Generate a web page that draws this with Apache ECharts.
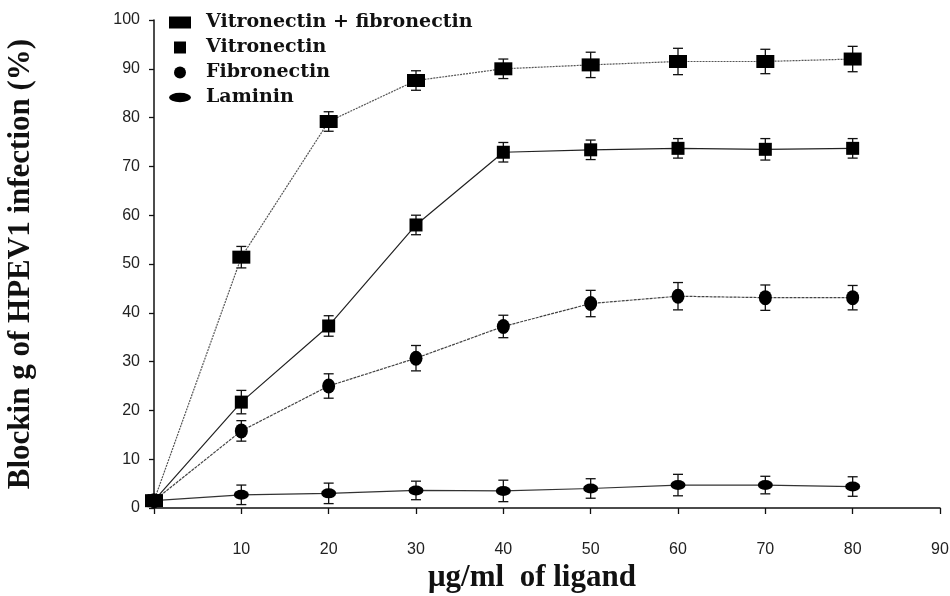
<!DOCTYPE html>
<html>
<head>
<meta charset="utf-8">
<style>
  html, body { margin: 0; padding: 0; background: #fff; }
  #chart { width: 950px; height: 596px; }
</style>
<script src="https://cdn.jsdelivr.net/npm/echarts@6/dist/echarts.min.js"></script>
</head>
<body>
<div id="chart"></div>
<script>
// ligand concentration (ug/ml)
const doses = [0, 10, 20, 30, 40, 50, 60, 70, 80];

// blocking (%) and error bar half-widths
const vitFib = [1.5, 51.4, 79.2, 87.6, 90.0, 90.8, 91.5, 91.5, 92.0];
const vitFibErr = [0, 2.2, 2.0, 2.0, 2.0, 2.6, 2.7, 2.5, 2.6];
const vitro = [1.5, 21.7, 37.3, 58.0, 72.9, 73.4, 73.7, 73.5, 73.7];
const vitroErr = [0, 2.4, 2.1, 2.0, 2.0, 2.0, 2.0, 2.2, 2.0];
const fibro = [1.5, 15.8, 25.0, 30.7, 37.2, 41.9, 43.4, 43.1, 43.1];
const fibroErr = [0, 2.1, 2.5, 2.6, 2.3, 2.7, 2.8, 2.6, 2.5];
const laminin = [1.5, 2.7, 3.0, 3.6, 3.5, 4.0, 4.7, 4.7, 4.4];
const lamininErr = [0, 2.0, 2.1, 1.9, 2.2, 2.0, 2.2, 1.8, 2.0];

const seriesNames = ['Vitronectin + fibronectin', 'Vitronectin', 'Fibronectin', 'Laminin'];

function pairs(ys) {
    return doses.map((x, i) => [x, ys[i]]);
}

function errData(ys, errs) {
    return doses.map((x, i) => [x, ys[i] - errs[i], ys[i] + errs[i]]);
}

// vertical error bar with caps
function renderErr(params, api) {
    if (api.value(2) - api.value(1) <= 0) return;
    const lo = api.coord([api.value(0), api.value(1)]);
    const hi = api.coord([api.value(0), api.value(2)]);
    const w = 5;
    const style = { stroke: '#111', lineWidth: 1.3 };
    return {
        type: 'group',
        children: [
            { type: 'line', shape: { x1: lo[0], y1: lo[1], x2: hi[0], y2: hi[1] }, style: style },
            { type: 'line', shape: { x1: lo[0] - w, y1: lo[1], x2: lo[0] + w, y2: lo[1] }, style: style },
            { type: 'line', shape: { x1: hi[0] - w, y1: hi[1], x2: hi[0] + w, y2: hi[1] }, style: style }
        ]
    };
}

function errSeries(ys, errs) {
    return {
        type: 'custom',
        renderItem: renderErr,
        data: errData(ys, errs),
        encode: { x: 0, y: [1, 2] },
        silent: true,
        z: 1
    };
}

const chart = echarts.init(document.getElementById('chart'));

const tickFont = "'Liberation Sans Narrow', 'Liberation Sans', sans-serif";
const titleFont = "'Liberation Serif', 'DejaVu Serif', serif";

const option = {
    backgroundColor: '#fff',
    animation: false,
    legend: {
        orient: 'vertical',
        left: 164,
        top: 8,
        itemWidth: 22,
        itemHeight: 12,
        itemGap: 6,
        data: [
            { name: seriesNames[0], icon: 'rect' },
            { name: seriesNames[1], icon: 'path://M0,0h10v10h-10z' },
            { name: seriesNames[2], icon: 'circle' },
            { name: seriesNames[3], icon: 'path://M0,3a7,3 0 1,0 14,0a7,3 0 1,0 -14,0z' }
        ],
        textStyle: {
            fontFamily: "'DejaVu Serif', serif",
            fontWeight: 'bold',
            fontSize: 19,
            color: '#111',
            padding: [0, 0, 0, 10]
        }
    },
    grid: {
        left: 154,
        right: 10,
        top: 20,
        bottom: 88,
        outerBoundsMode: 'none'
    },
    xAxis: {
        type: 'value',
        min: 0,
        max: 90,
        interval: 10,
        name: 'μg/ml  of ligand',
        nameLocation: 'middle',
        nameGap: 54,
        nameTextStyle: {
            fontFamily: titleFont,
            fontWeight: 'bold',
            fontSize: 31,
            color: '#111',
            padding: [0, 30, 0, 0]
        },
        axisLine: { lineStyle: { color: '#111', width: 1.5 } },
        axisTick: { length: 6, lineStyle: { color: '#111', width: 1.3 } },
        axisLabel: {
            margin: 34,
            fontFamily: tickFont,
            fontSize: 16,
            color: '#222',
            formatter: v => (v === 0 ? '' : v)
        },
        splitLine: { show: false }
    },
    yAxis: {
        type: 'value',
        min: 0,
        max: 100,
        interval: 10,
        name: 'Blockin g of HPEV1 infection (%)',
        nameLocation: 'middle',
        nameGap: 118,
        nameTextStyle: {
            fontFamily: titleFont,
            fontWeight: 'bold',
            fontSize: 31,
            color: '#111'
        },
        axisLine: { show: true, lineStyle: { color: '#111', width: 1.5 } },
        axisTick: { show: true, length: 5, lineStyle: { color: '#111', width: 1.3 } },
        axisLabel: {
            margin: 14,
            fontFamily: tickFont,
            fontSize: 16,
            color: '#222'
        },
        splitLine: { show: false }
    },
    series: [
        {
            name: seriesNames[0],
            type: 'line',
            data: pairs(vitFib),
            symbol: 'rect',
            symbolSize: [18, 13],
            itemStyle: { color: '#000' },
            lineStyle: { color: '#555', width: 1.2, type: [2, 1] },
            z: 3
        },
        {
            name: seriesNames[1],
            type: 'line',
            data: pairs(vitro),
            symbol: 'rect',
            symbolSize: [13, 13],
            itemStyle: { color: '#000' },
            lineStyle: { color: '#222', width: 1.2 },
            z: 3
        },
        {
            name: seriesNames[2],
            type: 'line',
            data: pairs(fibro),
            symbol: 'circle',
            symbolSize: [13, 15],
            itemStyle: { color: '#000' },
            lineStyle: { color: '#444', width: 1.2, type: [3, 1] },
            z: 3
        },
        {
            name: seriesNames[3],
            type: 'line',
            data: pairs(laminin),
            symbol: 'circle',
            symbolSize: [15, 10],
            itemStyle: { color: '#000' },
            lineStyle: { color: '#333', width: 1.2 },
            z: 3
        },
        errSeries(vitFib, vitFibErr),
        errSeries(vitro, vitroErr),
        errSeries(fibro, fibroErr),
        errSeries(laminin, lamininErr)
    ]
};

chart.setOption(option);

window.addEventListener('resize', function() {
    chart.resize();
});
</script>
</body>
</html>
